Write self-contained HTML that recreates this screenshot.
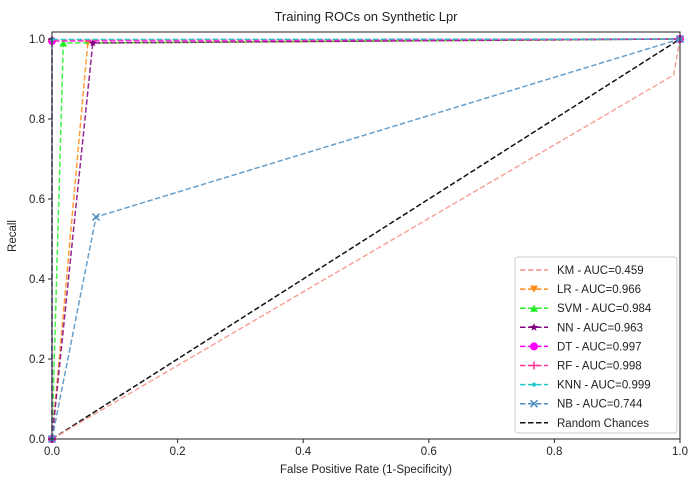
<!DOCTYPE html>
<html><head><meta charset="utf-8"><style>
body{margin:0;background:#fff;}
svg text{font-family:"Liberation Sans","DejaVu Sans",sans-serif;fill:#222;}
</style></head><body>
<svg id="chart" width="694" height="485" xmlns="http://www.w3.org/2000/svg"></svg>
<script>
const seriesNames = ["KM","LR","SVM","NN","DT","RF","KNN","NB"];
const aucValues = ["0.459","0.966","0.984","0.963","0.997","0.998","0.999","0.744"];
const fprKM=[0,0.99,1], tprKM=[0,0.91,1];
const fprLR=[0,0.057,1], tprLR=[0,0.99,1];
const fprSVM=[0,0.018,1], tprSVM=[0,0.99,1];
const fprNN=[0,0.065,1], tprNN=[0,0.99,1];
const fprDT=[0,0,1], tprDT=[0,0.995,1];
const fprRF=[0,0,1], tprRF=[0,0.997,1];
const fprKNN=[0,0,1], tprKNN=[0,0.999,1];
const fprNB=[0,0.07,1], tprNB=[0,0.555,1];
const xTicks=[0,0.2,0.4,0.6,0.8,1.0];
const yTicks=[0,0.2,0.4,0.6,0.8,1.0];

const NS="http://www.w3.org/2000/svg";
const svg=document.getElementById('chart');
const L=52,R=680,T=32,B=439,YMAX=1.0175;
const sx=v=>L+v*(R-L);
const sy=v=>B-v/YMAX*(B-T);
function mk(tag,attrs,parent){const e=document.createElementNS(NS,tag);for(const k in attrs)e.setAttribute(k,attrs[k]);(parent||svg).appendChild(e);return e;}
const colors=["#f4948a","#ff8c1a","#22ee22","#800080","#ff00ff","#ff3399","#1ec8c8","#4f8ec0"];
const markers=["none","tri-down","tri-up","star","circle","plus","dot","x"];
const fprs=[fprKM,fprLR,fprSVM,fprNN,fprDT,fprRF,fprKNN,fprNB];
const tprs=[tprKM,tprLR,tprSVM,tprNN,tprDT,tprRF,tprKNN,tprNB];

const title=mk('text',{x:366,y:21,'text-anchor':'middle','font-size':13});
title.textContent='Training ROCs on Synthetic Lpr';



function drawMarker(type,x,y,c,g,s){
  s=s||1;
  if(type==='tri-down')mk('polygon',{points:`${x-4*s},${y-3.5*s} ${x+4*s},${y-3.5*s} ${x},${y+3.5*s}`,fill:c},g);
  else if(type==='tri-up')mk('polygon',{points:`${x-4*s},${y+3.5*s} ${x+4*s},${y+3.5*s} ${x},${y-3.5*s}`,fill:c},g);
  else if(type==='star'){let p=[];for(let i=0;i<10;i++){const r=i%2?1.8*s:4.2*s,a=-Math.PI/2+i*Math.PI/5;p.push((x+r*Math.cos(a)).toFixed(1)+','+(y+r*Math.sin(a)).toFixed(1));}mk('polygon',{points:p.join(' '),fill:c},g);}
  else if(type==='circle')mk('circle',{cx:x,cy:y,r:4*s,fill:c},g);
  else if(type==='plus'){mk('line',{x1:x-4*s,y1:y,x2:x+4*s,y2:y,stroke:c,'stroke-width':1.5},g);mk('line',{x1:x,y1:y-4*s,x2:x,y2:y+4*s,stroke:c,'stroke-width':1.5},g);}
  else if(type==='dot')mk('circle',{cx:x,cy:y,r:2*s,fill:c},g);
  else if(type==='x'){mk('line',{x1:x-3.5*s,y1:y-3.5*s,x2:x+3.5*s,y2:y+3.5*s,stroke:c,'stroke-width':1.5},g);mk('line',{x1:x-3.5*s,y1:y+3.5*s,x2:x+3.5*s,y2:y-3.5*s,stroke:c,'stroke-width':1.5},g);}
}

// random chance line
const rc=mk('line',{x1:sx(0),y1:sy(0),x2:sx(1),y2:sy(1),stroke:'#111','stroke-width':1.5,'stroke-dasharray':'5.5,2.5'});



for(let i=0;i<seriesNames.length;i++){
  const g=mk('g',{});
  
  
  const pts=fprs[i].map((f,j)=>sx(f).toFixed(1)+','+sy(tprs[i][j]).toFixed(1)).join(' ');
  mk('polyline',{points:pts,fill:'none',stroke:colors[i],'stroke-width':1.5,'stroke-dasharray':'5.5,2.5',opacity:0.85},g);
  if(markers[i]!=='none')for(let j=0;j<fprs[i].length;j++)drawMarker(markers[i],sx(fprs[i][j]),sy(tprs[i][j]),colors[i],g);
}

// axes frame
const frame=mk('rect',{x:L,y:T,width:R-L,height:B-T,fill:'none',stroke:'#222','stroke-width':1});


xTicks.forEach(v=>{
  mk('line',{x1:sx(v),y1:B,x2:sx(v),y2:B+4,stroke:'#222'});
  const t=mk('text',{x:sx(v),y:B+16,'text-anchor':'middle','font-size':11.5});
  t.textContent=v.toFixed(1);
  
  
});
yTicks.forEach(v=>{
  mk('line',{x1:L-4,y1:sy(v),x2:L,y2:sy(v),stroke:'#222'});
  const t=mk('text',{x:L-7,y:sy(v)+4,'text-anchor':'end','font-size':11.5});
  t.textContent=v.toFixed(1);
  
  
});
const xl=mk('text',{x:366,y:473,'text-anchor':'middle','font-size':11.5});
xl.textContent='False Positive Rate (1-Specificity)';


const yl=mk('text',{x:0,y:0,'text-anchor':'middle','font-size':11.5,transform:'translate(16,236) rotate(-90)'});
yl.textContent='Recall';



// legend
const lg=mk('g',{});


mk('rect',{x:515,y:257,width:162,height:176,rx:3,fill:'#fff','fill-opacity':0.85,stroke:'#ccc'},lg);
const labels=seriesNames.map((n,i)=>n+' - AUC='+aucValues[i]).concat(['Random Chances']);
labels.forEach((lab,i)=>{
  const y=270+i*19.1;
  const c=i<8?colors[i]:'#111';
  const e=mk('g',{},lg);
  
  
  mk('line',{x1:520,y1:y,x2:548,y2:y,stroke:c,'stroke-width':1.5,'stroke-dasharray':'5.5,2.5'},e);
  if(i<8&&markers[i]!=='none')drawMarker(markers[i],534,y,c,e);
  const t=mk('text',{x:557,y:y+4,'font-size':11.5},e);
  t.textContent=lab;
});
</script>
</body></html>
